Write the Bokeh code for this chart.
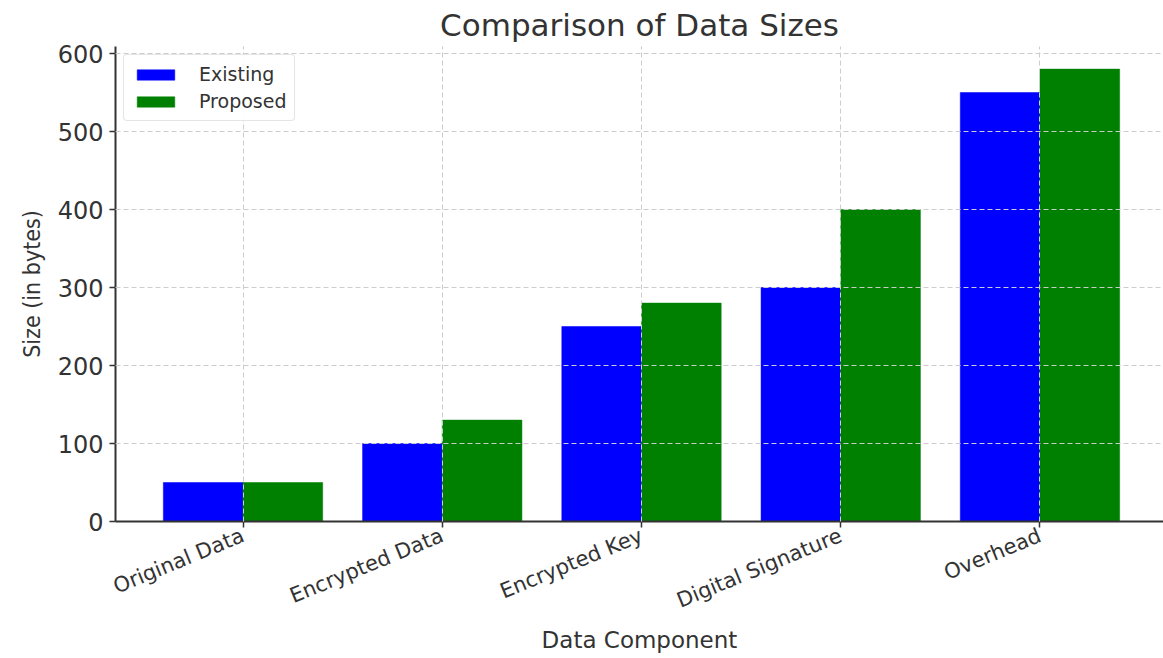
import numpy as np
from bokeh.plotting import figure
from bokeh.models import Range1d, FixedTicker, Legend, LegendItem
from bokeh.embed import file_html
from bokeh.resources import INLINE

categories = ["Original Data", "Encrypted Data", "Encrypted Key", "Digital Signature", "Overhead"]
existing = [50, 100, 250, 300, 550]
proposed = [50, 130, 280, 400, 580]
y_ticks = [0, 100, 200, 300, 400, 500, 600]

idx = np.arange(len(categories))
bar_w = 0.4

p = figure(width=1163, height=658, output_backend="svg", toolbar_location=None,
           x_range=Range1d(-0.64, 4.62), y_range=Range1d(0, 609),
           min_border_left=115, min_border_right=0, min_border_top=46, min_border_bottom=137)

r1 = p.vbar(x=idx - bar_w / 2, top=existing, width=bar_w, fill_color="#0000ff", line_color="#0000ff", line_width=0.5)
r2 = p.vbar(x=idx + bar_w / 2, top=proposed, width=bar_w, fill_color="#008000", line_color="#008000", line_width=0.5)

p.title.text = "Comparison of Data Sizes"
p.title.align = "center"
p.title.text_font = "DejaVu Sans"
p.title.text_font_size = "31px"
p.title.text_font_style = "normal"
p.title.text_color = "#333333"
p.title.standoff = 8

p.outline_line_color = None

p.xaxis.ticker = FixedTicker(ticks=list(idx))
p.xaxis.major_label_overrides = {int(i): c for i, c in zip(idx, categories)}
p.xaxis.major_label_orientation = 0.39
p.xaxis.axis_label = "Data Component"
p.yaxis.ticker = FixedTicker(ticks=y_ticks)
p.yaxis.axis_label = "Size (in bytes)"

for ax in (p.xaxis, p.yaxis):
    ax.axis_line_width = 2
    ax.axis_line_color = "#333333"
    ax.major_tick_line_color = "#333333"
    ax.major_tick_line_width = 1.5
    ax.major_tick_out = 6
    ax.major_tick_in = 0
    ax.minor_tick_line_color = None
    ax.major_label_text_font = "DejaVu Sans"
    ax.major_label_text_color = "#333333"
    ax.axis_label_text_color = "#333333"
    ax.axis_label_text_font_style = "normal"

p.yaxis.major_label_text_font_size = "24px"
p.xaxis.major_label_text_font_size = "21px"
p.xaxis.major_label_standoff = 7
p.xaxis.axis_label_text_font = "DejaVu Sans"
p.xaxis.axis_label_text_font_size = "23px"
p.xaxis.axis_label_standoff = 0
p.yaxis.axis_label_text_font = "DejaVu Sans Condensed"
p.yaxis.axis_label_text_font_size = "23px"
p.yaxis.axis_label_standoff = 10
p.yaxis.major_label_standoff = 6

for g in (p.xgrid, p.ygrid):
    g.grid_line_color = "#cccccc"
    g.grid_line_dash = "5 3"
    g.grid_line_width = 1
    g.level = "overlay"
p.xgrid.ticker = FixedTicker(ticks=list(idx))
p.ygrid.ticker = FixedTicker(ticks=y_ticks)

legend = Legend(items=[LegendItem(label="Existing", renderers=[r1]),
                       LegendItem(label="Proposed", renderers=[r2])],
                location="top_left", margin=8)
legend.glyph_width = 47
legend.glyph_height = 13
legend.label_standoff = 20
legend.label_text_font = "DejaVu Sans"
legend.label_text_font_size = "19px"
legend.label_text_color = "#333333"
legend.label_height = 20
legend.spacing = 5
legend.padding = 8
legend.border_line_color = "#cccccc"
legend.border_line_width = 1
legend.border_radius = 4
legend.background_fill_alpha = 0.9
p.add_layout(legend)

open("out.html", "w").write(file_html(p, INLINE))
